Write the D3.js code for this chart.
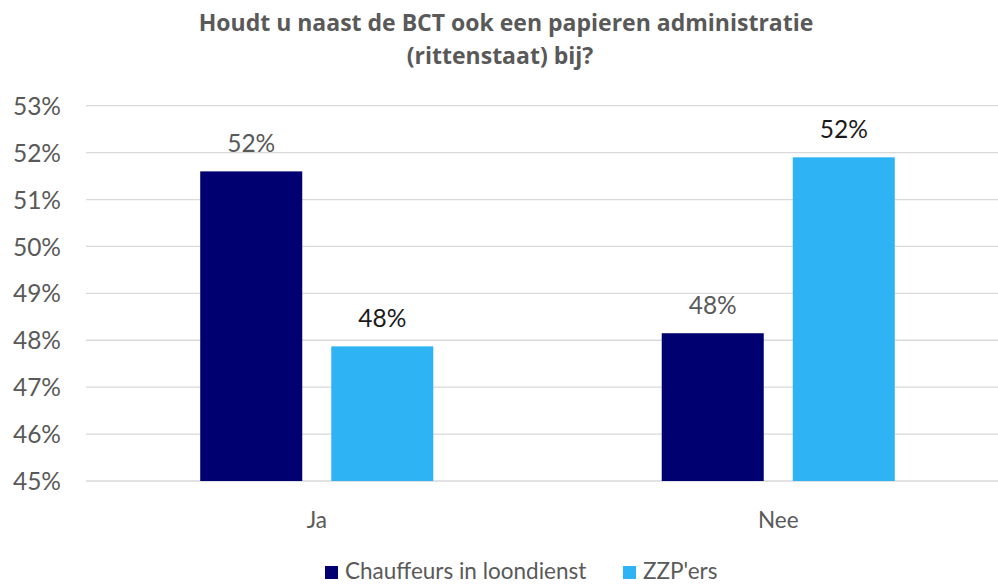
<!DOCTYPE html>
<html>
<head>
<meta charset="utf-8">
<script src="https://cdn.jsdelivr.net/npm/d3@7"></script>
<style>
  body { margin: 0; background: #fff; }
  text { font-family: Lato, "Open Sans", sans-serif; }
</style>
</head>
<body>
<div id="chart"></div>
<script>
var categories = ["Ja", "Nee"];
var seriesNames = ["Chauffeurs in loondienst", "ZZP'ers"];
var chauffeurs = [51.6, 48.15];
var zzp = [47.87, 51.9];
var valueLabels = [["52%", "48%"], ["48%", "52%"]]; // per series, per category
var yTicks = [45, 46, 47, 48, 49, 50, 51, 52, 53];

var colors = ["#000070", "#2EB4F5"];
var labelColors = ["#595959", "#1a1a1a"];
var W = 998, H = 584;

var svg = d3.select("#chart").append("svg")
    .attr("width", W).attr("height", H);

var y = d3.scaleLinear().domain([45, 53]).range([481, 105.7]);
var x0 = d3.scaleBand().domain(categories).range([86, 1009]).paddingInner(0.495).paddingOuter(0.2475);
var x1 = d3.scaleBand().domain(seriesNames).range([0, x0.bandwidth()]).paddingInner(0.2214);

// gridlines
svg.append("g").selectAll("line").data(yTicks).enter().append("line")
    .attr("x1", 86).attr("x2", W)
    .attr("y1", function(d){ return y(d); }).attr("y2", function(d){ return y(d); })
    .style("stroke", "#d9d9d9").style("stroke-width", 1.3);

// y axis labels
var yAxis = d3.axisLeft(y).tickValues(yTicks).tickSize(0).tickPadding(0)
    .tickFormat(function(d){ return d + "%"; });
var yg = svg.append("g").attr("transform", "translate(61,0)").call(yAxis);
yg.select(".domain").remove();
yg.selectAll("text").style("font-size", "24.5px").style("fill", "#595959")
    .style("font-family", "Lato, 'Open Sans', sans-serif").attr("dy", "0.35em");

// bars
var series = [chauffeurs, zzp];
var groups = svg.append("g").selectAll("g").data(series).enter().append("g")
    .attr("fill", function(d, i){ return colors[i]; });

groups.each(function(vals, si){
    var g = d3.select(this);
    g.selectAll("rect").data(vals).enter().append("rect")
        .attr("x", function(d, ci){ return x0(categories[ci]) + x1(seriesNames[si]); })
        .attr("y", function(d){ return y(d); })
        .attr("width", x1.bandwidth())
        .attr("height", function(d){ return y(45) - y(d); });
    g.selectAll("text").data(vals).enter().append("text")
        .attr("x", function(d, ci){ return x0(categories[ci]) + x1(seriesNames[si]) + x1.bandwidth()/2; })
        .attr("y", function(d){ return y(d) - 19; })
        .attr("text-anchor", "middle")
        .style("font-size", "24.5px")
        .style("fill", labelColors[si])
        .text(function(d, ci){ return valueLabels[si][ci]; });
});

// x axis labels
var xAxis = d3.axisBottom(x0).tickSize(0).tickPadding(0);
var xg = svg.append("g").attr("transform", "translate(0,520)").call(xAxis);
xg.select(".domain").remove();
xg.selectAll("text").style("font-size", "22.5px").style("fill", "#595959")
    .style("font-family", "Lato, 'Open Sans', sans-serif").attr("dy", "0.35em");

// title
var title = svg.append("text").attr("text-anchor", "middle")
    .style("font-family", "'Open Sans', sans-serif")
    .style("font-size", "23px").style("font-weight", "bold").style("fill", "#595959");
title.append("tspan").attr("x", 506).attr("y", 31).text("Houdt u naast de BCT ook een papieren administratie");
title.append("tspan").attr("x", 500).attr("y", 64).text("(rittenstaat) bij?");

// legend
var legendX = [325, 623];
var legend = svg.append("g").selectAll("g").data(seriesNames).enter().append("g")
    .attr("transform", function(d, i){ return "translate(" + legendX[i] + ",566)"; });
legend.append("rect").attr("width", 13).attr("height", 13)
    .attr("fill", function(d, i){ return colors[i]; });
legend.append("text").attr("x", 20).attr("y", 13)
    .style("font-size", "22.5px").style("fill", "#595959")
    .text(function(d){ return d; });
</script>
</body>
</html>
